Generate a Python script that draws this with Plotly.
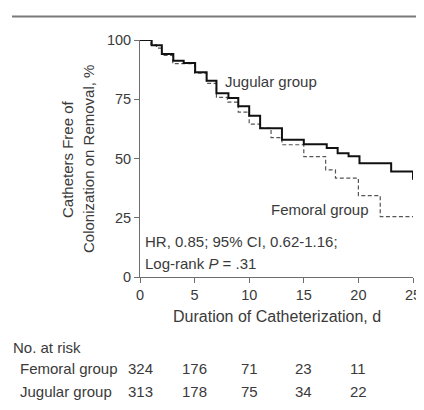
import plotly.graph_objects as go

# Kaplan-Meier step data (days, % free of colonization)
jug_days = [0, 1.07, 2, 3.05, 4, 5.05, 6.1, 7, 8.1, 9, 10, 11, 13, 15, 17.1, 18.1, 19.1, 20.1, 23, 25]
jug_pct = [100, 97.8, 94.1, 91.2, 90.3, 86.4, 82.8, 77.5, 75.5, 72, 68, 62.8, 57.9, 56, 54.4, 52.2, 51, 48, 44.5, 41]

fem_days = [0, 1, 1.5, 2, 3, 5, 6.1, 7, 8, 9, 10, 11, 12, 13, 15, 17, 17.9, 20, 22, 25]
fem_pct = [100, 98, 96.6, 93.5, 90, 86, 81.7, 75.8, 73.8, 69.6, 64.5, 62.8, 58.8, 55.8, 50.8, 45.2, 41.7, 34.3, 25.5, 25.5]

# Number at risk table
risk_days = [0, 5, 10, 15, 20]
fem_risk = [324, 176, 71, 23, 11]
jug_risk = [313, 178, 75, 34, 22]

x_ticks = [0, 5, 10, 15, 20, 25]
y_ticks = [0, 25, 50, 75, 100]

FONT = "Liberation Sans, Arial, sans-serif"
TXT = "#3a3a3a"
AX = "#6e6e6e"
FS = 15     # text size
TS = 14.5   # tick label size

# plot area in page pixels (page has 8px body margin)
PX0, PX1, PY0, PY1 = 140, 413, 40, 277
PW, PH = PX1 - PX0, PY1 - PY0


def px(x):
    return (x - PX0) / PW


def py(y):
    return (PY1 - y) / PH


fig = go.Figure()
fig.add_trace(go.Scatter(x=fem_days, y=fem_pct, mode="lines", line_shape="hv",
                         line=dict(color="#555555", width=1.2, dash="4px,2.5px"),
                         cliponaxis=False, showlegend=False, hoverinfo="skip"))
fig.add_trace(go.Scatter(x=jug_days, y=jug_pct, mode="lines", line_shape="hv",
                         line=dict(color="#111111", width=2),
                         cliponaxis=False, showlegend=False, hoverinfo="skip"))

ann = []
ann.append(dict(x=px(223), y=py(81), xref="paper", yref="paper", text="Jugular group", showarrow=False,
                xanchor="left", yanchor="middle", font=dict(size=FS, color=TXT)))
ann.append(dict(x=px(371), y=py(209), xref="paper", yref="paper", text="Femoral group", showarrow=False,
                xanchor="right", yanchor="middle", font=dict(size=FS, color=TXT)))
ann.append(dict(x=px(143), y=py(241.5), xref="paper", yref="paper", text="HR, 0.85; 95% CI, 0.62-1.16;",
                showarrow=False, xanchor="left", yanchor="middle", font=dict(size=FS, color=TXT)))
ann.append(dict(x=px(143), y=py(263.5), xref="paper", yref="paper", text="Log-rank <i>P</i> = .31",
                showarrow=False, xanchor="left", yanchor="middle", font=dict(size=FS, color=TXT)))
# axis titles
ann.append(dict(x=0.5, y=py(316.5), xref="paper", yref="paper",
                text="Duration of Catheterization, d", showarrow=False,
                xanchor="center", yanchor="middle", font=dict(size=16, color=TXT)))
ann.append(dict(x=px(67), y=py(159), xref="paper", yref="paper",
                text="Catheters Free of", showarrow=False, textangle=-90,
                xanchor="center", yanchor="middle", font=dict(size=FS, color=TXT)))
ann.append(dict(x=px(88), y=py(159), xref="paper", yref="paper",
                text="Colonization on Removal, %", showarrow=False, textangle=-90,
                xanchor="center", yanchor="middle", font=dict(size=FS, color=TXT)))
# at-risk table
ann.append(dict(x=px(10.5), y=py(347), xref="paper", yref="paper",
                text="No. at risk", showarrow=False, xanchor="left", yanchor="middle",
                font=dict(size=FS, color=TXT)))
row_y = {"Femoral group": py(368.5), "Jugular group": py(391)}
for name, vals in (("Femoral group", fem_risk), ("Jugular group", jug_risk)):
    ann.append(dict(x=px(18), y=row_y[name], xref="paper", yref="paper",
                    text=name, showarrow=False, xanchor="left", yanchor="middle",
                    font=dict(size=FS, color=TXT)))
    for d, v in zip(risk_days, vals):
        ann.append(dict(x=d, y=row_y[name], xref="x", yref="paper", text=str(v),
                        showarrow=False, xanchor="center", yanchor="middle",
                        font=dict(size=FS, color=TXT)))

W, H = 424, 394   # figure drawn from page offset (8, 8)
fig.update_layout(
    width=W, height=H, autosize=False,
    margin=dict(l=PX0 - 8, r=W - (PX1 - 8), t=PY0 - 8, b=H - (PY1 - 8), pad=0, autoexpand=False),
    paper_bgcolor="white", plot_bgcolor="white",
    font=dict(family=FONT, size=FS, color=TXT),
    annotations=ann,
    shapes=[dict(type="line", xref="paper", yref="paper",
                 x0=px(12), x1=px(440), y0=py(16.5), y1=py(16.5),
                 line=dict(color="#7a7a7a", width=2))],
    xaxis=dict(range=[0, 25], tickvals=x_ticks, ticks="outside", ticklen=5, tickcolor=AX,
               showline=True, linecolor=AX, linewidth=1, showgrid=False, zeroline=False,
               automargin=False, tickfont=dict(size=TS, color=TXT)),
    yaxis=dict(range=[0, 100], tickvals=y_ticks, ticks="outside", ticklen=5, tickcolor=AX,
               showline=True, linecolor=AX, linewidth=1, showgrid=False, zeroline=False,
               automargin=False, tickfont=dict(size=TS, color=TXT)),
)

fig.write_html("out.html")
